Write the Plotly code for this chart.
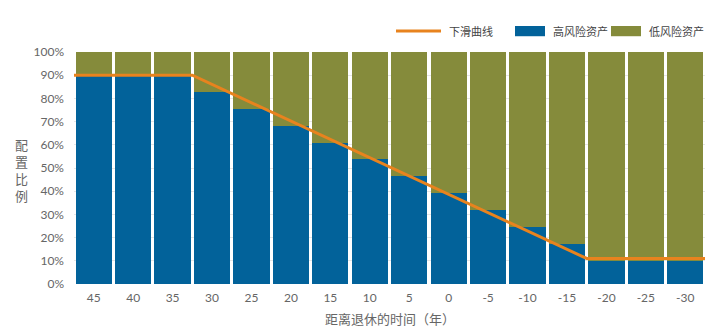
import plotly.graph_objects as go

years = ["45", "40", "35", "30", "25", "20", "15", "10", "5", "0",
         "-5", "-10", "-15", "-20", "-25", "-30"]
high_risk = [90, 90, 90, 82.6, 75.4, 68.2, 60.9, 53.7, 46.5, 39.1,
             31.7, 24.4, 17.2, 10, 10, 10]
low_risk = [round(100 - v, 1) for v in high_risk]
# glide path vertices, placed on bar boundaries (boundary k = left edge of bar k)
glide_x = [-0.5, 2.5, 12.5, 15.5]
glide_y = [90, 90, 11, 11]
y_ticks = [0, 10, 20, 30, 40, 50, 60, 70, 80, 90, 100]

BLUE = "#02629A"
OLIVE = "#858B3B"
ORANGE = "#E8831E"
GRAY = "#666666"
FONT = "Lato, 'Noto Sans CJK SC', sans-serif"

xs = list(range(len(years)))

fig = go.Figure()
fig.add_trace(go.Bar(x=xs, y=high_risk, marker=dict(color=BLUE, line=dict(width=0)),
                     name="高风险资产", showlegend=False))
fig.add_trace(go.Bar(x=xs, y=low_risk, marker=dict(color=OLIVE, line=dict(width=0)),
                     name="低风险资产", showlegend=False))
fig.add_trace(go.Scatter(x=glide_x, y=glide_y, mode="lines",
                         line=dict(color=ORANGE, width=3), name="下滑曲线",
                         showlegend=False))

fig.update_layout(
    barmode="stack",
    bargap=0.08,
    width=713, height=329,
    margin=dict(l=74, r=8, t=52, b=45, autoexpand=False),
    paper_bgcolor="white", plot_bgcolor="white",
    font=dict(family=FONT, color=GRAY, size=12),
    xaxis=dict(range=[-0.5, 15.5], tickmode="array", tickvals=xs, ticktext=years,
               showgrid=False, zeroline=False, showline=False, ticks="",
               ticklabelstandoff=5, automargin=False,
               tickfont=dict(size=12, color=GRAY)),
    yaxis=dict(range=[0, 100], tickmode="array", tickvals=y_ticks,
               ticktext=[f"{v}%" for v in y_ticks],
               showgrid=True, gridcolor="#e6e6e6", gridwidth=1,
               zeroline=False, showline=False, ticks="",
               ticklabelstandoff=9, automargin=False,
               tickfont=dict(size=12, color=GRAY)),
)

PLOT_H = 329 - 52 - 45
# x-axis title
fig.add_annotation(text="距离退休的时间（年）", xref="paper", yref="paper",
                   x=0.5, y=-(319 - 284) / PLOT_H, xanchor="center", yanchor="middle",
                   showarrow=False, font=dict(size=13, color=GRAY))

# y-axis title: vertical stacked characters
fig.add_annotation(text="配<br>置<br>比<br>例", xref="paper", yref="paper",
                   x=-0.083, y=0.49, xanchor="center", yanchor="middle",
                   showarrow=False, font=dict(size=13, color=GRAY), align="center")

# custom legend (paper coordinates, above plot)
ly = 1.09
def px_to_x(px):
    return (px - 74) / (713 - 74 - 8)

fig.add_shape(type="line", xref="paper", yref="paper",
              x0=px_to_x(396), x1=px_to_x(441), y0=ly, y1=ly,
              line=dict(color=ORANGE, width=3))
fig.add_annotation(text="下滑曲线", xref="paper", yref="paper", x=px_to_x(447), y=ly,
                   xanchor="left", yanchor="middle", showarrow=False,
                   font=dict(size=11, color="#444444"))
fig.add_shape(type="rect", xref="paper", yref="paper",
              x0=px_to_x(515), x1=px_to_x(545), y0=ly - 0.022, y1=ly + 0.022,
              fillcolor=BLUE, line=dict(width=0))
fig.add_annotation(text="高风险资产", xref="paper", yref="paper", x=px_to_x(551), y=ly,
                   xanchor="left", yanchor="middle", showarrow=False,
                   font=dict(size=11, color="#444444"))
fig.add_shape(type="rect", xref="paper", yref="paper",
              x0=px_to_x(611), x1=px_to_x(641), y0=ly - 0.022, y1=ly + 0.022,
              fillcolor=OLIVE, line=dict(width=0))
fig.add_annotation(text="低风险资产", xref="paper", yref="paper", x=px_to_x(647), y=ly,
                   xanchor="left", yanchor="middle", showarrow=False,
                   font=dict(size=11, color="#444444"))

fig.write_html("out.html")
